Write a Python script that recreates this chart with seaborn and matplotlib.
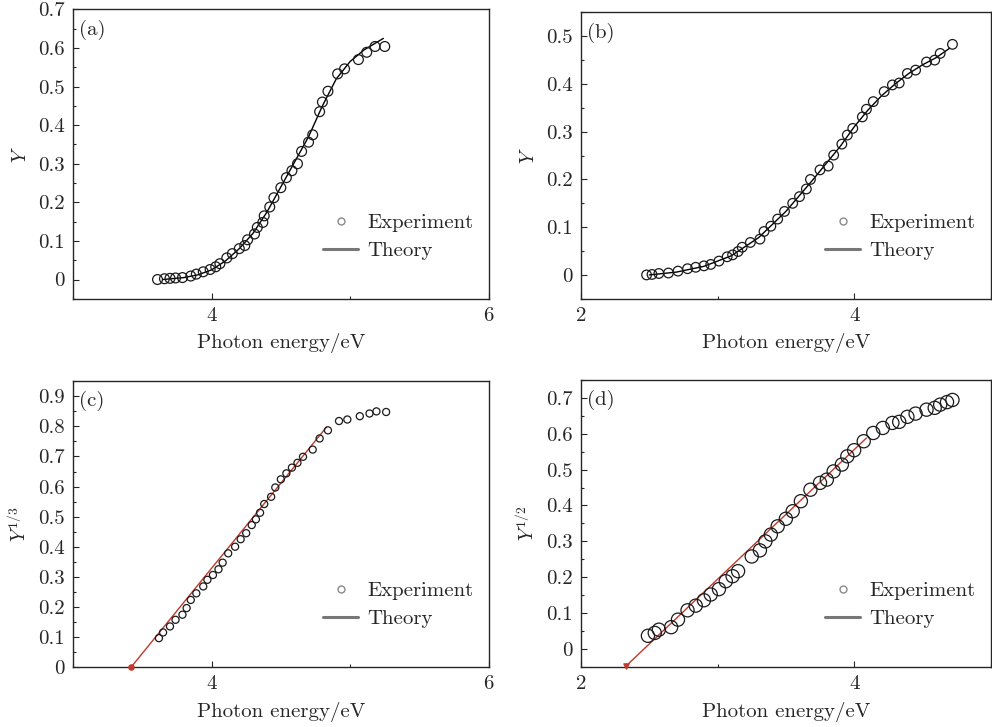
import numpy as np
import pandas as pd
import matplotlib.pyplot as plt
import seaborn as sns
from matplotlib.lines import Line2D
from matplotlib.ticker import MultipleLocator, FuncFormatter

# ---- data ----
# (a) Y vs photon energy
a_exp_x = [3.61, 3.66, 3.70, 3.74, 3.79, 3.85, 3.89, 3.94, 3.99, 4.03, 4.06, 4.11, 4.15, 4.20,
           4.24, 4.26, 4.31, 4.33, 4.37, 4.38, 4.42, 4.45, 4.50, 4.54, 4.58, 4.62, 4.65, 4.70,
           4.73, 4.78, 4.80, 4.84, 4.91, 4.96, 5.06, 5.12, 5.18, 5.25]
a_exp_y = [0.000, 0.002, 0.003, 0.004, 0.005, 0.009, 0.014, 0.020, 0.026, 0.033, 0.041, 0.056,
           0.067, 0.080, 0.088, 0.103, 0.118, 0.135, 0.148, 0.165, 0.188, 0.212, 0.238, 0.264,
           0.282, 0.300, 0.332, 0.356, 0.375, 0.435, 0.460, 0.488, 0.533, 0.546, 0.570, 0.589,
           0.604, 0.604]
a_th_x = [3.65, 3.80, 3.90, 4.00, 4.10, 4.20, 4.30, 4.40, 4.50, 4.60, 4.70, 4.80, 4.90, 5.00,
          5.10, 5.24]
a_th_y = [0.000, 0.005, 0.012, 0.025, 0.048, 0.080, 0.120, 0.175, 0.240, 0.305, 0.370, 0.450,
          0.520, 0.565, 0.595, 0.625]

# (b) Y vs photon energy
b_exp_x = [2.48, 2.52, 2.57, 2.64, 2.71, 2.78, 2.84, 2.90, 2.95, 3.01, 3.07, 3.11, 3.15, 3.18,
           3.24, 3.31, 3.34, 3.39, 3.44, 3.49, 3.55, 3.60, 3.65, 3.68, 3.75, 3.81, 3.85, 3.91,
           3.95, 3.99, 4.06, 4.09, 4.14, 4.22, 4.28, 4.33, 4.39, 4.45, 4.53, 4.59, 4.63, 4.72]
b_exp_y = [0.000, 0.001, 0.003, 0.004, 0.008, 0.013, 0.016, 0.019, 0.022, 0.029, 0.038, 0.042,
           0.049, 0.058, 0.068, 0.075, 0.091, 0.102, 0.117, 0.133, 0.150, 0.164, 0.180, 0.200,
           0.220, 0.228, 0.251, 0.274, 0.293, 0.307, 0.331, 0.347, 0.363, 0.384, 0.398, 0.402,
           0.422, 0.429, 0.446, 0.450, 0.464, 0.483]
b_th_x = [2.50, 2.70, 2.90, 3.10, 3.30, 3.50, 3.70, 3.90, 4.00, 4.10, 4.20, 4.30, 4.40, 4.50,
          4.60, 4.70]
b_th_y = [0.000, 0.006, 0.018, 0.040, 0.078, 0.133, 0.200, 0.270, 0.310, 0.345, 0.375, 0.400,
          0.422, 0.440, 0.455, 0.475]

# (c) Y^(1/3) vs photon energy
c_exp_x = [3.62, 3.65, 3.70, 3.74, 3.79, 3.82, 3.85, 3.89, 3.94, 3.97, 4.01, 4.05, 4.08, 4.12,
           4.17, 4.21, 4.25, 4.29, 4.32, 4.35, 4.38, 4.43, 4.46, 4.50, 4.54, 4.58, 4.62, 4.66,
           4.73, 4.78, 4.84, 4.92, 4.98, 5.07, 5.14, 5.19, 5.26]
c_exp_y = [0.096, 0.115, 0.135, 0.157, 0.174, 0.196, 0.223, 0.245, 0.268, 0.290, 0.306, 0.325,
           0.347, 0.378, 0.400, 0.425, 0.445, 0.472, 0.491, 0.513, 0.542, 0.566, 0.597, 0.624,
           0.644, 0.663, 0.679, 0.699, 0.723, 0.760, 0.787, 0.818, 0.823, 0.834, 0.843, 0.850,
           0.848]
c_fit_x = [3.42, 4.83]
c_fit_y = [0.0, 0.798]

# (d) Y^(1/2) vs photon energy
d_exp_x = [2.49, 2.54, 2.57, 2.66, 2.71, 2.78, 2.84, 2.90, 2.95, 3.01, 3.06, 3.11, 3.15, 3.25,
           3.31, 3.35, 3.39, 3.44, 3.50, 3.55, 3.61, 3.68, 3.75, 3.80, 3.85, 3.91, 3.95, 4.00,
           4.07, 4.14, 4.21, 4.28, 4.33, 4.39, 4.45, 4.53, 4.59, 4.63, 4.68, 4.72]
d_exp_y = [0.037, 0.045, 0.054, 0.061, 0.082, 0.108, 0.121, 0.136, 0.152, 0.167, 0.189, 0.203,
           0.217, 0.258, 0.275, 0.300, 0.319, 0.342, 0.363, 0.384, 0.412, 0.444, 0.463, 0.472,
           0.495, 0.514, 0.537, 0.554, 0.579, 0.602, 0.616, 0.630, 0.633, 0.647, 0.656, 0.667,
           0.672, 0.681, 0.688, 0.694]
d_fit_x = [2.33, 4.09]
d_fit_y = [-0.047, 0.588]

sns.set_style("ticks")
plt.rcParams["font.family"] = "serif"
plt.rcParams["font.serif"] = ["cmr10", "DejaVu Serif"]
plt.rcParams["mathtext.fontset"] = "cm"
plt.rcParams["axes.unicode_minus"] = False
plt.rcParams["axes.formatter.use_mathtext"] = True

fig = plt.figure(figsize=(9.92, 7.27), dpi=100)
ax_a = fig.add_axes([0.0736, 0.589, 0.419, 0.398])
ax_b = fig.add_axes([0.5857, 0.589, 0.413, 0.394])
ax_c = fig.add_axes([0.0736, 0.0825, 0.419, 0.393])
ax_d = fig.add_axes([0.5857, 0.0825, 0.413, 0.395])

edge = "#1a1a1a"
red = "#c0392b"
fs = 15


def exp_points(ax, x, y, size):
    df = pd.DataFrame({"x": x, "y": y})
    sns.scatterplot(data=df, x="x", y="y", ax=ax, marker="o", s=size,
                    facecolor="none", edgecolor=edge, linewidth=0.9, zorder=3)


def curve(ax, x, y, color, lw=1.0):
    df = pd.DataFrame({"x": x, "y": y})
    sns.lineplot(data=df, x="x", y="y", ax=ax, color=color, linewidth=lw,
                 estimator=None, sort=False, zorder=2)


exp_points(ax_a, a_exp_x, a_exp_y, 50)
curve(ax_a, a_th_x, a_th_y, "black")
exp_points(ax_b, b_exp_x, b_exp_y, 48)
curve(ax_b, b_th_x, b_th_y, "black")
exp_points(ax_c, c_exp_x, c_exp_y, 26)
curve(ax_c, c_fit_x, c_fit_y, red)
ax_c.scatter(c_fit_x[:1], c_fit_y[:1], s=14, color=red, zorder=4, clip_on=False)
exp_points(ax_d, d_exp_x, d_exp_y, 90)
curve(ax_d, d_fit_x, d_fit_y, red)
ax_d.scatter(d_fit_x[:1], d_fit_y[:1], s=14, marker="v", color=red, zorder=4, clip_on=False)

fmt = FuncFormatter(lambda v, p: "%g" % round(v, 3))
panels = [
    (ax_a, "(a)", r"$Y$", (3, 6), (-0.05, 0.7)),
    (ax_b, "(b)", r"$Y$", (2, 5), (-0.05, 0.55)),
    (ax_c, "(c)", r"$Y^{1/3}$", (3, 6), (0, 0.95)),
    (ax_d, "(d)", r"$Y^{1/2}$", (2, 5), (-0.05, 0.75)),
]
for ax, tag, ylab, xl, yl in panels:
    ax.set_xlim(*xl)
    ax.set_ylim(*yl)
    ax.xaxis.set_major_locator(MultipleLocator(2))
    ax.xaxis.set_minor_locator(MultipleLocator(1))
    ax.yaxis.set_major_locator(MultipleLocator(0.1))
    ax.yaxis.set_minor_locator(MultipleLocator(0.05))
    ax.yaxis.set_major_formatter(fmt)
    ax.xaxis.set_major_formatter(fmt)
    ax.tick_params(which="both", direction="in", labelsize=fs, width=0.8)
    ax.tick_params(which="major", length=4, pad=6)
    ax.tick_params(which="minor", length=2.5)
    for sp in ax.spines.values():
        sp.set_visible(True)
        sp.set_linewidth(1.0)
    ax.set_xlabel("Photon energy/eV", fontsize=fs, labelpad=6)
    ax.set_ylabel(ylab, fontsize=fs - 1, labelpad=6)
    ax.text(0.015, 0.965, tag, transform=ax.transAxes, ha="left", va="top", fontsize=fs)
    handles = [
        Line2D([], [], marker="o", linestyle="none", markersize=5, markerfacecolor="none",
               markeredgecolor="#8a8a8a", markeredgewidth=1.0),
        Line2D([], [], color="#777777", linewidth=2.2),
    ]
    ax.legend(handles, ["Experiment", "Theory"], loc="lower right", bbox_to_anchor=(1.008, 0.07),
              frameon=False, fontsize=fs, handlelength=1.65, handletextpad=0.45,
              labelspacing=0.45)

fig.savefig("out.png", dpi=100)
